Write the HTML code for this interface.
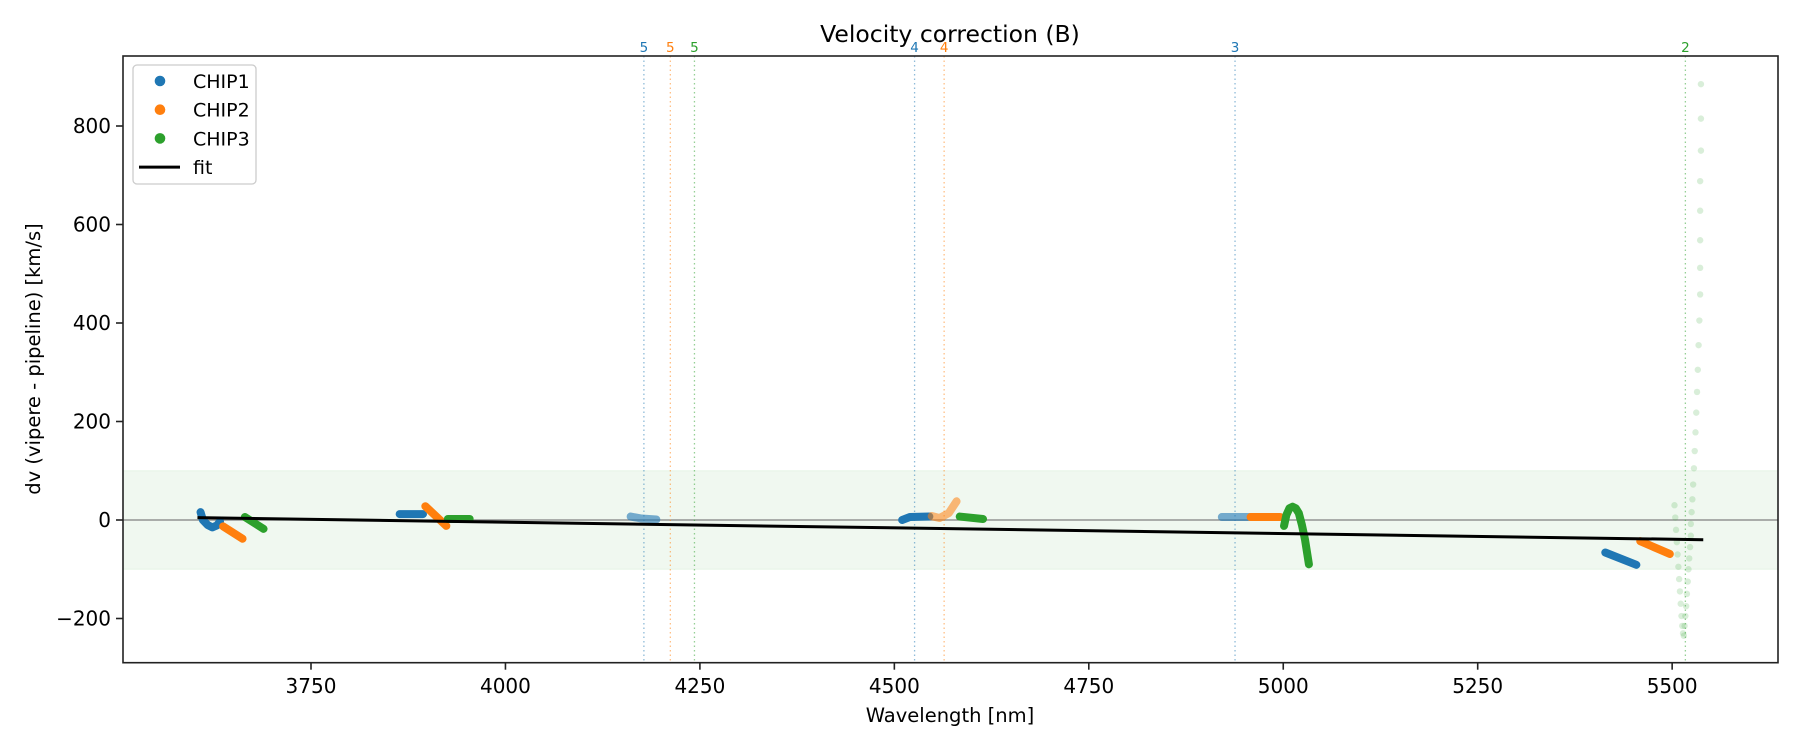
<!DOCTYPE html>
<html><head><meta charset="utf-8"><style>
body{margin:0;background:#fff}
svg text{font-family:"DejaVu Sans","Liberation Sans",sans-serif}
</style></head><body>
<svg id="chart" width="1800" height="750" viewBox="0 0 1800 750" xmlns="http://www.w3.org/2000/svg">
<rect width="1800" height="750" fill="#fff"/>
<g id="plot"></g>
</svg>
<script>
const xTicks=[3750,4000,4250,4500,4750,5000,5250,5500];
const yTicks=[-200,0,200,400,600,800];
const yTickLabels=["\u2212200","0","200","400","600","800"];
const chip1Segs=[
 [[3608,16],[3611,0],[3617,-10],[3623,-15],[3629,-11],[3633,-3]],
 [[3864,12],[3894,12]],
 [[4510,0],[4520,6],[4545,7]],
 [[5414,-66],[5454,-91]]
];
const chip1Faded=[
 [[4161,7],[4175,3],[4194,1]],
 [[4921,6],[4957,6]]
];
const chip2Segs=[
 [[3637,-13],[3662,-38]],
 [[3897,28],[3924,-12]],
 [[4958,6],[4996,6]],
 [[5459,-43],[5497,-69]]
];
const chip2Faded=[
 [[4548,8],[4558,4],[4570,14],[4580,38]]
];
const chip3Segs=[
 [[3665,6],[3689,-18]],
 [[3926,2],[3954,2]],
 [[4584,7],[4614,2]],
 [[5001,-12],[5004,10],[5008,24],[5012,27],[5016,24],[5020,14],[5024,-10],[5028,-40],[5031,-70],[5033,-90]]
];
const chip3FaintX=[5503,5504,5505,5506,5507,5508,5509,5510,5511,5512,5513,5514,5515,5516,5517,5518,5519,5520,5521,5522,5523,5524,5524,5525,5526,5527,5528,5529,5530,5531,5532,5533,5534,5535,5536,5536];
const chip3FaintY=[30,5,-20,-45,-70,-95,-120,-145,-170,-195,-215,-230,-235,-215,-195,-175,-150,-125,-100,-78,-55,-32,-8,16,42,72,105,140,178,218,260,305,355,405,458,512];
const chip3FaintTop=[[5536,568],[5536,628],[5536,688],[5537,750],[5537,815],[5537,885]];
const fitX=[3604,5540];
const fitY=[4.7,-40];
const vlineX=[4178,4212,4243,4526,4564,4938,5517];
const vlineLabel=["5","5","5","4","4","3","2"];
const vlineColor=["#1f77b4","#ff7f0e","#2ca02c","#1f77b4","#ff7f0e","#1f77b4","#2ca02c"];

const L=123,R=1778,T=56,B=662.7;
const xs=v=>311+(v-3750)*0.7778;
const ys=v=>520-v*0.4925;
const NS="http://www.w3.org/2000/svg";
const g=document.getElementById('plot');
function mk(t,a,p){const e=document.createElementNS(NS,t);for(const k in a)e.setAttribute(k,a[k]);(p||g).appendChild(e);return e;}
let band=mk('rect',{x:L,y:ys(100),width:R-L,height:ys(-100)-ys(100),fill:'#2ca02c','fill-opacity':0.07,stroke:'#2ca02c','stroke-opacity':0.08});


let zl=mk('line',{x1:L,x2:R,y1:ys(0),y2:ys(0),stroke:'#808080','stroke-width':1.3});


vlineX.forEach((v,i)=>{
 const l=mk('line',{x1:xs(v),x2:xs(v),y1:T,y2:B,stroke:vlineColor[i],'stroke-opacity':0.5,'stroke-width':1.3,'stroke-dasharray':'1.5,3'});
 
 
 const t=mk('text',{x:xs(v),y:52,'text-anchor':'middle','font-size':13.5,fill:vlineColor[i]});
 t.textContent=vlineLabel[i];
 
 
});
function seg(pts,color,op,name){
 const p=mk('polyline',{points:pts.map(d=>xs(d[0])+','+ys(d[1])).join(' '),fill:'none',stroke:color,'stroke-opacity':op,'stroke-width':8,'stroke-linecap':'round','stroke-linejoin':'round'});
 
 
}
chip1Segs.forEach(s=>seg(s,'#1f77b4',1,'chip1-points'));
chip1Faded.forEach(s=>seg(s,'#1f77b4',0.6,'chip1-points-faded'));
chip2Segs.forEach(s=>seg(s,'#ff7f0e',1,'chip2-points'));
chip2Faded.forEach(s=>seg(s,'#ff7f0e',0.55,'chip2-points-faded'));
chip3Segs.forEach(s=>seg(s,'#2ca02c',1,'chip3-points'));
chip3FaintX.forEach((v,i)=>{
 const c=mk('circle',{cx:xs(v),cy:ys(chip3FaintY[i]),r:3.2,fill:'#2ca02c','fill-opacity':0.18});
 
 
});
chip3FaintTop.forEach(d=>{
 const c=mk('circle',{cx:xs(d[0]),cy:ys(d[1]),r:3.2,fill:'#2ca02c','fill-opacity':0.18});
 
 
});
let fit=mk('line',{x1:xs(fitX[0]),y1:ys(fitY[0]),x2:xs(fitX[1]),y2:ys(fitY[1]),stroke:'#000','stroke-width':3});


let fr=mk('rect',{x:L,y:T,width:R-L,height:B-T,fill:'none',stroke:'#222','stroke-width':1.6});


xTicks.forEach(v=>{
 const tk=mk('line',{x1:xs(v),x2:xs(v),y1:B,y2:B+7,stroke:'#222','stroke-width':1.6});
 
 
 const t=mk('text',{x:xs(v),y:693,'text-anchor':'middle','font-size':20,fill:'#000'});
 t.textContent=v;
 
 
});
yTicks.forEach((v,i)=>{
 const tk=mk('line',{x1:L-7,x2:L,y1:ys(v),y2:ys(v),stroke:'#222','stroke-width':1.6});
 
 
 const t=mk('text',{x:L-12,y:ys(v)+7,'text-anchor':'end','font-size':20,fill:'#000'});
 t.textContent=yTickLabels[i];
 
 
});
let tt=mk('text',{x:950,y:42,'text-anchor':'middle','font-size':23.5,fill:'#000'});
tt.textContent='Velocity correction (B)';


let xl=mk('text',{x:950,y:722,'text-anchor':'middle','font-size':19.5,fill:'#000'});
xl.textContent='Wavelength [nm]';


let yl=mk('text',{x:0,y:0,'text-anchor':'middle','font-size':19.5,fill:'#000',transform:'translate(40,359) rotate(-90)'});
yl.textContent='dv (vipere - pipeline) [km/s]';


const lg=mk('g',{});


mk('rect',{x:133,y:65,width:123,height:119,rx:4,fill:'#fff','fill-opacity':0.8,stroke:'#ccc','stroke-width':1.3},lg);
const legNames=['CHIP1','CHIP2','CHIP3','fit'];
const legColors=['#1f77b4','#ff7f0e','#2ca02c','#000'];
legNames.forEach((n,i)=>{
 const cy=81+i*28.7;
 if(i<3){const c=mk('circle',{cx:160,cy:cy,r:5.3,fill:legColors[i]},lg);
  
  }
 else{const l=mk('line',{x1:139,x2:180,y1:cy,y2:cy,stroke:'#000','stroke-width':3},lg);
  
  }
 const t=mk('text',{x:193,y:cy+7,'font-size':19,fill:'#000'},lg);
 t.textContent=n;
 
 
});
</script>
</body></html>
